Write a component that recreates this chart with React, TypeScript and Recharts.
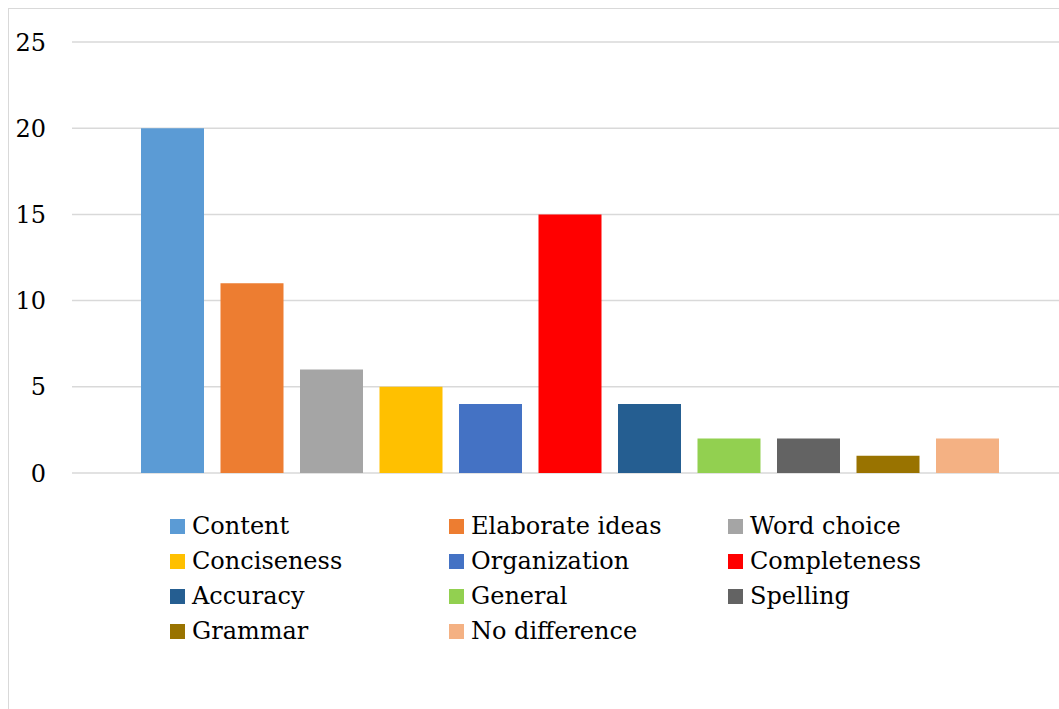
import { BarChart, Bar, XAxis, YAxis, CartesianGrid } from 'recharts';

const categories = [
  'Content',
  'Elaborate ideas',
  'Word choice',
  'Conciseness',
  'Organization',
  'Completeness',
  'Accuracy',
  'General',
  'Spelling',
  'Grammar',
  'No difference',
];

const values = [20, 11, 6, 5, 4, 15, 4, 2, 2, 1, 2];

const colors = [
  '#5B9BD5',
  '#ED7D31',
  '#A5A5A5',
  '#FFC000',
  '#4472C4',
  '#FF0000',
  '#255E91',
  '#92D050',
  '#636363',
  '#997300',
  '#F4B183',
];

const yTicks = [0, 5, 10, 15, 20, 25];

// one row, one key per series
const row: Record<string, string | number> = { name: 'all' };
categories.forEach((c, i) => {
  row[c] = values[i];
});
const chartData = [row];

const FONT = '"DejaVu Serif", "Liberation Serif", serif';

const App = () => {
  return (
    <div style={{ position: 'relative', width: 1059, height: 709, overflow: 'hidden', background: '#fff' }}>
      <style>{`body { margin: 0; overflow: hidden; }`}</style>
      {/* chart frame, right/bottom edges are cut off in the original */}
      <div
        style={{
          position: 'absolute',
          left: 8,
          top: 8,
          width: 1070,
          height: 720,
          border: '1px solid #d9d9d9',
        }}
      />
      <div style={{ position: 'absolute', left: 9, top: 9 }}>
        <BarChart
          width={1050}
          height={500}
          data={chartData}
          margin={{ top: 33, right: 0, left: 0, bottom: 36 }}
          barGap={16.5}
          barCategoryGap={0}
        >
          <CartesianGrid vertical={false} stroke="#d9d9d9" strokeWidth={1.5} />
          <XAxis dataKey="name" hide padding={{ left: 69, right: 60 }} />
          <YAxis
            width={63}
            domain={[0, 25]}
            ticks={yTicks}
            interval={0}
            axisLine={false}
            tickLine={false}
            tickSize={0}
            tickMargin={26}
            tick={{ fontSize: 24, fontFamily: FONT, fill: '#000' }}
          />
          {categories.map((c, i) => (
            <Bar key={c} dataKey={c} fill={colors[i]} isAnimationActive={false} />
          ))}
        </BarChart>
      </div>
      {categories.map((c, i) => {
        const col = i % 3;
        const r = Math.floor(i / 3);
        return (
          <div
            key={c}
            style={{
              position: 'absolute',
              left: 170 + col * 279,
              top: 509 + r * 35,
              height: 35,
              lineHeight: '35px',
              fontFamily: FONT,
              fontSize: 24,
              color: '#000',
              whiteSpace: 'nowrap',
            }}
          >
            <span
              style={{
                position: 'absolute',
                left: 0,
                top: 10,
                width: 15,
                height: 15,
                background: colors[i],
              }}
            />
            <span style={{ position: 'absolute', left: 22, top: 0 }}>{c}</span>
          </div>
        );
      })}
    </div>
  );
};

export default App;
